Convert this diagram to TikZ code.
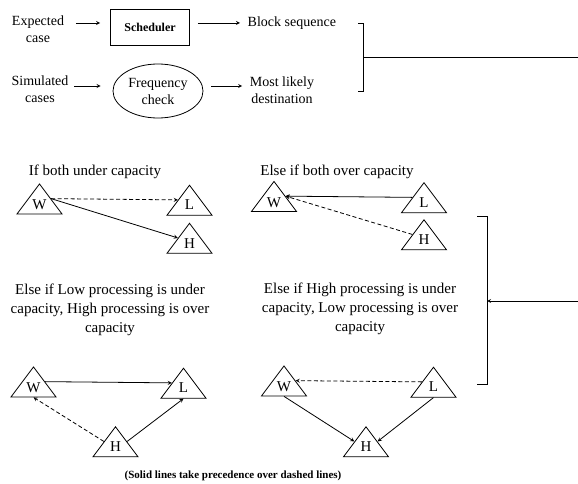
\documentclass[tikz,border=0pt]{standalone}
\usepackage{fontspec}
\setmainfont{Liberation Serif}
\usetikzlibrary{shapes.geometric}
\usetikzlibrary{arrows}

\tikzset{
	tri/.style={draw, isosceles triangle, isosceles triangle stretches, shape border rotate=90, minimum width=45pt, minimum height=30pt, inner sep=0pt, font=\fontsize{15}{15}\selectfont},
	lbl/.style={align=center, font=\fontsize{14}{17}\selectfont},
	cond/.style={align=center, font=\fontsize{15}{19}\selectfont},
	dashline/.style={dash pattern=on 4pt off 2.5pt}
}

\begin{document}
\begin{tikzpicture}[x=1pt, y=-1pt, line width=0.8pt]
	\useasboundingbox (0,0) rectangle (578,484);

	% top row: inputs and outputs
	\node[lbl] (expected) at (38,29) {Expected\\case};
	\node[draw, minimum width=79pt, minimum height=36pt, font=\bfseries\fontsize{12}{14}\selectfont] (scheduler) at (150,27) {Scheduler};
	\node[lbl, anchor=west] (block) at (244,23) {Block sequence};
	\node[lbl] (simulated) at (40,89) {Simulated\\cases};
	\node[lbl, draw, ellipse, minimum width=90pt, minimum height=54pt, inner sep=0pt] (freq) at (158,91) {Frequency\\check};
	\node[lbl] (likely) at (282,90) {Most likely\\destination};

	\draw[-stealth, shorten <=8pt, shorten >=10pt] (expected.east |- block) -- (scheduler.west |- block);
	\draw[-stealth, shorten <=8pt, shorten >=4pt] (scheduler.east |- block) -- (block.west);
	\draw[-stealth, shorten <=2pt, shorten >=12pt] ([yshift=3pt]simulated.east) -- ([yshift=3pt]simulated.east -| freq.west);
	\draw[-stealth, shorten <=8pt, shorten >=4pt] ([yshift=4pt]likely.west -| freq.east) -- ([yshift=4pt]likely.west);

	\draw (358,23) -- (363,23) -- (363,91) -- (358,91);
	\draw (363,57) -- (578,57);

	% the four cases
	\node[cond] (c1) at (95,172) {If both under capacity};
	\node[tri] (w1) at (39.5,205) {W};
	\node[tri] (l1) at (189.5,205) {L};
	\node[tri] (h1) at (189.5,243.5) {H};
	\draw[dashline, -stealth] (w1.right side) -- (l1.left side);
	\draw[-stealth] (w1.right side) -- (h1.left side);

	\node[cond] (c2) at (337,172) {Else if both over capacity};
	\node[tri] (w2) at (274,202.5) {W};
	\node[tri] (l2) at (424,202.5) {L};
	\node[tri] (h2) at (424,240) {H};
	\draw[-stealth] (l2.left side) -- (w2.right side);
	\draw[dashline, -stealth] (h2.left side) -- (w2.right side);

	\node[cond] (c3) at (110,310) {Else if Low processing is under\\capacity, High processing is over\\capacity};
	\node[tri] (w3) at (33.5,388) {W};
	\node[tri] (l3) at (183.5,388) {L};
	\node[tri] (h3) at (115.5,447) {H};
	\draw[-stealth] (w3.right side) -- (l3.left side);
	\draw[dashline, -stealth] (h3.left side) -- (w3.lower side);
	\draw[-stealth] (h3.right side) -- (l3.lower side);

	\node[cond] (c4) at (360,309) {Else if High processing is under\\capacity, Low processing is over\\capacity};
	\node[tri] (w4) at (284,387) {W};
	\node[tri] (l4) at (433.5,387) {L};
	\node[tri] (h4) at (366,447) {H};
	\draw[dashline, -stealth] (l4.left side) -- (w4.right side);
	\draw[-stealth] (w4.lower side) -- (h4.left side);
	\draw[-stealth] (l4.lower side) -- (h4.right side);

	\draw (477,216) -- (487,216) -- (487,384) -- (477,384);
	\coordinate (into) at (578,301);
	\draw[-stealth] (into) -- (487,301);

	\node[font=\bfseries\fontsize{11}{13}\selectfont] (note) at (233,476) {(Solid lines take precedence over dashed lines)};
\end{tikzpicture}
\end{document}
